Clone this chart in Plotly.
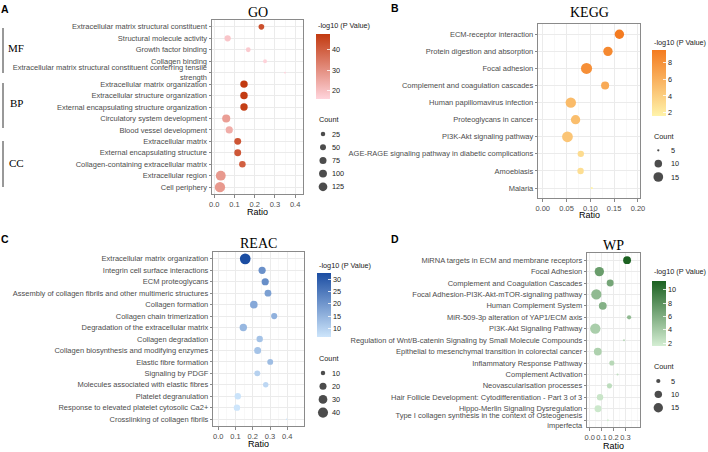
import numpy as np
import plotly.graph_objects as go

W, H = 708, 452
SANS = "Liberation Sans, Arial, sans-serif"
SERIF = "Liberation Serif, Times New Roman, serif"

# ---------------- data ----------------
GO_terms = [
    "Extracellular matrix structural constituent",
    "Structural molecule activity",
    "Growth factor binding",
    "Collagen binding",
    "Extracellular matrix structural constituent conferring tensile<br>strength",
    "Extracellular matrix organization",
    "Extracellular structure organization",
    "External encapsulating structure organization",
    "Circulatory system development",
    "Blood vessel development",
    "Extracellular matrix",
    "External encapsulating structure",
    "Collagen-containing extracellular matrix",
    "Extracellular region",
    "Cell periphery",
]
GO_ratio = [0.233, 0.066, 0.168, 0.251, 0.350, 0.147, 0.147, 0.147, 0.059, 0.074, 0.116, 0.116, 0.139, 0.032, 0.028]
GO_logp = [43, 19, 18, 16.5, 16, 47.5, 47, 46.5, 27, 24, 42, 41.5, 40, 28, 28]
GO_count = [44, 57, 29, 18, 7, 86, 86, 85, 105, 79, 72, 72, 63, 168, 187]
GO_groups = ["MF", "BP", "CC"]

KEGG_terms = [
    "ECM-receptor interaction",
    "Protein digestion and absorption",
    "Focal adhesion",
    "Complement and coagulation cascades",
    "Human papillomavirus infection",
    "Proteoglycans in cancer",
    "PI3K-Akt signaling pathway",
    "AGE-RAGE signaling pathway in diabetic complications",
    "Amoebiasis",
    "Malaria",
]
KEGG_ratio = [0.161, 0.137, 0.092, 0.131, 0.059, 0.069, 0.052, 0.080, 0.0795, 0.103]
KEGG_logp = [9.5, 8.6, 8.2, 6.4, 5.3, 5.1, 4.6, 3.1, 3.0, 1.6]
KEGG_count = [14, 14, 19, 11, 17, 14, 18, 8, 8, 5]

REAC_terms = [
    "Extracellular matrix organization",
    "Integrin cell surface interactions",
    "ECM proteoglycans",
    "Assembly of collagen fibrils and other multimeric structures",
    "Collagen formation",
    "Collagen chain trimerization",
    "Degradation of the extracellular matrix",
    "Collagen degradation",
    "Collagen biosynthesis and modifying enzymes",
    "Elastic fibre formation",
    "Signaling by PDGF",
    "Molecules associated with elastic fibres",
    "Platelet degranulation",
    "Response to elevated platelet cytosolic Ca2+",
    "Crosslinking of collagen fibrils",
]
REAC_ratio = [0.156, 0.254, 0.272, 0.288, 0.206, 0.324, 0.145, 0.240, 0.228, 0.301, 0.226, 0.275, 0.113, 0.108, 0.396]
REAC_logp = [32.7, 21, 21.5, 18.5, 17, 15.5, 14.5, 12.5, 12.5, 13.5, 10, 9, 7, 6.6, 6.6]
REAC_count = [45, 21, 21, 19, 23, 16, 22, 17, 20, 15, 15, 13, 17, 17, 6]

WP_terms = [
    "MiRNA targets in ECM and membrane receptors",
    "Focal Adhesion",
    "Complement and Coagulation Cascades",
    "Focal Adhesion-PI3K-Akt-mTOR-signaling pathway",
    "Human Complement System",
    "MiR-509-3p alteration of YAP1/ECM axis",
    "PI3K-Akt Signaling Pathway",
    "Regulation of Wnt/B-catenin Signaling by Small Molecule Compounds",
    "Epithelial to mesenchymal transition in colorectal cancer",
    "Inflammatory Response Pathway",
    "Complement Activation",
    "Neovascularisation processes",
    "Hair Follicle Development: Cytodifferentiation - Part 3 of 3",
    "Hippo-Merlin Signaling Dysregulation",
    "Type I collagen synthesis in the context of Osteogenesis<br>imperfecta",
]
WP_ratio = [0.314, 0.081, 0.172, 0.056, 0.110, 0.331, 0.047, 0.288, 0.068, 0.186, 0.234, 0.166, 0.087, 0.070, 0.153]
WP_logp = [11.3, 7.2, 6.6, 5.2, 5.8, 5.2, 3.8, 3.0, 3.6, 3.1, 2.6, 2.8, 2.2, 2.0, 1.6]
WP_count = [11, 15, 9, 18, 11, 5, 18, 4, 11, 6, 4, 6, 8, 9, 4]

GO_xticks = [0.0, 0.1, 0.2, 0.3, 0.4]
KEGG_xticks = [0.00, 0.05, 0.10, 0.15, 0.20]
REAC_xticks = [0.0, 0.1, 0.2, 0.3, 0.4]
WP_xticks = [0.0, 0.1, 0.2, 0.3]

GO_cbticks = [20, 30, 40]
KEGG_cbticks = [2, 4, 6, 8]
REAC_cbticks = [10, 15, 20, 25, 30]
WP_cbticks = [2, 4, 6, 8, 10]

GO_breaks = [25, 50, 75, 100, 125]
KEGG_breaks = [5, 10, 15]
REAC_breaks = [10, 20, 30, 40]
WP_breaks = [5, 10, 15]

# ---------------- helpers ----------------
def px(x):
    return x / W

def py(y):
    return 1 - y / H

def diam(counts, cmin, cmax, dmin, dmax):
    c = np.asarray(counts, float)
    t = np.clip((c - cmin) / (cmax - cmin), 0, 1)
    return dmin + (dmax - dmin) * np.sqrt(t)

panels = [
    dict(letter="A", title="GO", terms=GO_terms, ratio=GO_ratio, logp=GO_logp, count=GO_count,
         breaks=GO_breaks, xticks=GO_xticks, fmt=".1f", minor=0.05, cbticks=GO_cbticks,
         box=(212, 20, 303, 194), xr=(-0.0114, 0.439), drange=(1.8, 10.3),
         colors=("#FFD4DC", "#C23A10"), cb=(315.7, 34, 65), cbtitle=(316, 25.7),
         cnt=(317, 120), dotx=323, labx=329.5, legy=134, legdy=13.2,
         letpos=(5, 9), titley=12, ratioy=212),
    dict(letter="B", title="KEGG", terms=KEGG_terms, ratio=KEGG_ratio, logp=KEGG_logp, count=KEGG_count,
         breaks=KEGG_breaks, xticks=KEGG_xticks, fmt=".2f", minor=0.025, cbticks=KEGG_cbticks,
         box=(538.3, 24, 639.7, 198.3), xr=(-0.0092, 0.2036), drange=(2.3, 11.1),
         colors=("#FFF3AA", "#F47B20"), cb=(651.7, 50, 66), cbtitle=(651.7, 42),
         cnt=(651.7, 136), dotx=658.3, labx=668.5, legy=150.3, legdy=13.35,
         letpos=(395, 8), titley=12, ratioy=215),
    dict(letter="C", title="REAC", terms=REAC_terms, ratio=REAC_ratio, logp=REAC_logp, count=REAC_count,
         breaks=REAC_breaks, xticks=REAC_xticks, fmt=".1f", minor=0.05, cbticks=REAC_cbticks,
         box=(213.3, 252, 304.3, 426), xr=(-0.029, 0.4986), drange=(1.5, 10.7),
         colors=("#CDE5FB", "#1B4DA2"), cb=(316.7, 272.7, 64.3), cbtitle=(316.7, 265),
         cnt=(316.7, 358.7), dotx=323, labx=329.5, legy=373, legdy=13.2,
         letpos=(5, 239), titley=243.3, ratioy=444.3),
    dict(letter="D", title="WP", terms=WP_terms, ratio=WP_ratio, logp=WP_logp, count=WP_count,
         breaks=WP_breaks, xticks=WP_xticks, fmt=".1f", minor=0.05, cbticks=WP_cbticks,
         box=(587.3, 253.3, 639.7, 427), xr=(-0.02, 0.42), drange=(2.0, 10.3),
         colors=("#D4EED3", "#1C6121"), cb=(651.7, 281, 65), cbtitle=(651.7, 271.7),
         cnt=(651.7, 366.7), dotx=658.3, labx=668.5, legy=381, legdy=13.35,
         letpos=(395, 239), titley=245.3, ratioy=446),
]

fig = go.Figure()
annotations = []
shapes = []
layout = dict(
    width=W, height=H, margin=dict(l=0, r=0, t=0, b=0, pad=0, autoexpand=False),
    paper_bgcolor="white", plot_bgcolor="rgba(0,0,0,0)",
    showlegend=False, font=dict(family=SANS, color="#222"),
)

GRID = "#EBEBEB"
BORDER = "#8a8a8a"
TICKC = "#4d4d4d"

for i, p in enumerate(panels, start=1):
    sfx = "" if i == 1 else str(i)
    x0, y0, x1, y1 = p["box"]
    n = len(p["terms"])
    cmin, cmax = min(p["count"]), max(p["count"])
    sizes = diam(p["count"], cmin, cmax, *p["drange"])
    fig.add_trace(go.Scatter(
        x=p["ratio"], y=p["terms"], mode="markers",
        marker=dict(size=sizes, color=p["logp"], coloraxis="coloraxis" + sfx, line=dict(width=0), opacity=1),
        xaxis="x" + sfx, yaxis="y" + sfx, hoverinfo="skip",
    ))
    layout["xaxis" + sfx] = dict(
        domain=[px(x0), px(x1)], range=list(p["xr"]), anchor="y" + sfx,
        tickmode="array", tickvals=p["xticks"], ticktext=[format(v, p["fmt"]) for v in p["xticks"]],
        tickangle=0,
        showgrid=True, gridcolor=GRID, gridwidth=1, zeroline=False,
        minor=dict(tick0=0, dtick=p["minor"], showgrid=True, gridcolor="#F3F3F3", gridwidth=0.6),
        showline=True, mirror=True, linecolor=BORDER, linewidth=1,
        ticks="outside", ticklen=2.5, tickwidth=0.7, tickcolor="#555",
        tickfont=dict(size=7.5, color=TICKC, family=SANS), fixedrange=True, automargin=False,
    )
    layout["yaxis" + sfx] = dict(
        domain=[py(y1), py(y0)], anchor="x" + sfx, type="category",
        categoryorder="array", categoryarray=p["terms"], range=[n - 0.4, -0.6],
        showgrid=True, gridcolor=GRID, gridwidth=1, zeroline=False,
        showline=True, mirror=True, linecolor=BORDER, linewidth=1,
        ticks="outside", ticklen=2.5, tickwidth=0.7, tickcolor="#555",
        tickfont=dict(size=7.5, color=TICKC, family=SANS), fixedrange=True, automargin=False,
    )
    cbx, cby, cblen = p["cb"]
    layout["coloraxis" + sfx] = dict(
        colorscale=[[0, p["colors"][0]], [1, p["colors"][1]]],
        colorbar=dict(
            x=px(cbx), xanchor="left", xpad=0, y=py(cby), yanchor="top", ypad=0,
            len=cblen, lenmode="pixels", thickness=13.5, outlinewidth=0,
            tickmode="array", tickvals=p["cbticks"], ticks="inside", ticklen=3,
            tickcolor="white", tickwidth=0.8,
            tickfont=dict(size=7.3, color="#222", family=SANS), title=dict(text=""),
        ),
    )
    # size legend (overlay pixel axis)
    bsz = diam(p["breaks"], cmin, cmax, *p["drange"])
    ys = [p["legy"] + k * p["legdy"] for k in range(len(p["breaks"]))]
    fig.add_trace(go.Scatter(
        x=[p["dotx"]] * len(ys), y=ys, mode="markers",
        marker=dict(size=bsz, color="black", line=dict(width=0)),
        xaxis="x9", yaxis="y9", hoverinfo="skip",
    ))
    for b, yy in zip(p["breaks"], ys):
        annotations.append(dict(x=px(p["labx"]), y=py(yy), xref="paper", yref="paper", text=str(b),
                                showarrow=False, xanchor="left", yanchor="middle",
                                font=dict(size=7.3, color="#222", family=SANS)))
    annotations.append(dict(x=px(p["cnt"][0]), y=py(p["cnt"][1]), xref="paper", yref="paper", text="Count",
                            showarrow=False, xanchor="left", yanchor="middle",
                            font=dict(size=7.3, color="#222", family=SANS)))
    annotations.append(dict(x=px(p["cbtitle"][0]), y=py(p["cbtitle"][1]), xref="paper", yref="paper",
                            text="-log10 (P Value)", showarrow=False, xanchor="left", yanchor="middle",
                            font=dict(size=7.3, color="#222", family=SANS)))
    annotations.append(dict(x=px(p["letpos"][0]), y=py(p["letpos"][1]), xref="paper", yref="paper",
                            text="<b>%s</b>" % p["letter"], showarrow=False, xanchor="center", yanchor="middle",
                            font=dict(size=10.5, color="black", family=SANS)))
    annotations.append(dict(x=px((x0 + x1) / 2), y=py(p["titley"]), xref="paper", yref="paper",
                            text=p["title"], showarrow=False, xanchor="center", yanchor="middle",
                            font=dict(size=14, color="black", family=SERIF)))
    annotations.append(dict(x=px((x0 + x1) / 2), y=py(p["ratioy"]), xref="paper", yref="paper",
                            text="Ratio", showarrow=False, xanchor="center", yanchor="middle",
                            font=dict(size=9, color="black", family=SANS)))

# GO ontology group brackets
group_spans = [(28, 73, 48), (83, 128, 103), (141, 187, 163)]
for g, (ya, yb, yc) in zip(GO_groups, group_spans):
    shapes.append(dict(type="line", xref="paper", yref="paper", x0=px(3), x1=px(3), y0=py(ya), y1=py(yb),
                       line=dict(color="#333", width=1)))
    annotations.append(dict(x=px(16.3), y=py(yc), xref="paper", yref="paper", text=g, showarrow=False,
                            xanchor="center", yanchor="middle", font=dict(size=11, color="black", family=SERIF)))

layout["xaxis9"] = dict(domain=[0, 1], range=[0, W], visible=False, fixedrange=True, anchor="y9")
layout["yaxis9"] = dict(domain=[0, 1], range=[H, 0], visible=False, fixedrange=True, anchor="x9")
layout["annotations"] = annotations
layout["shapes"] = shapes
fig.update_layout(**layout)
fig.write_html("out.html", config={"displayModeBar": False, "staticPlot": True},
               post_script="document.body.style.margin='0px';document.body.style.overflow='hidden';")
